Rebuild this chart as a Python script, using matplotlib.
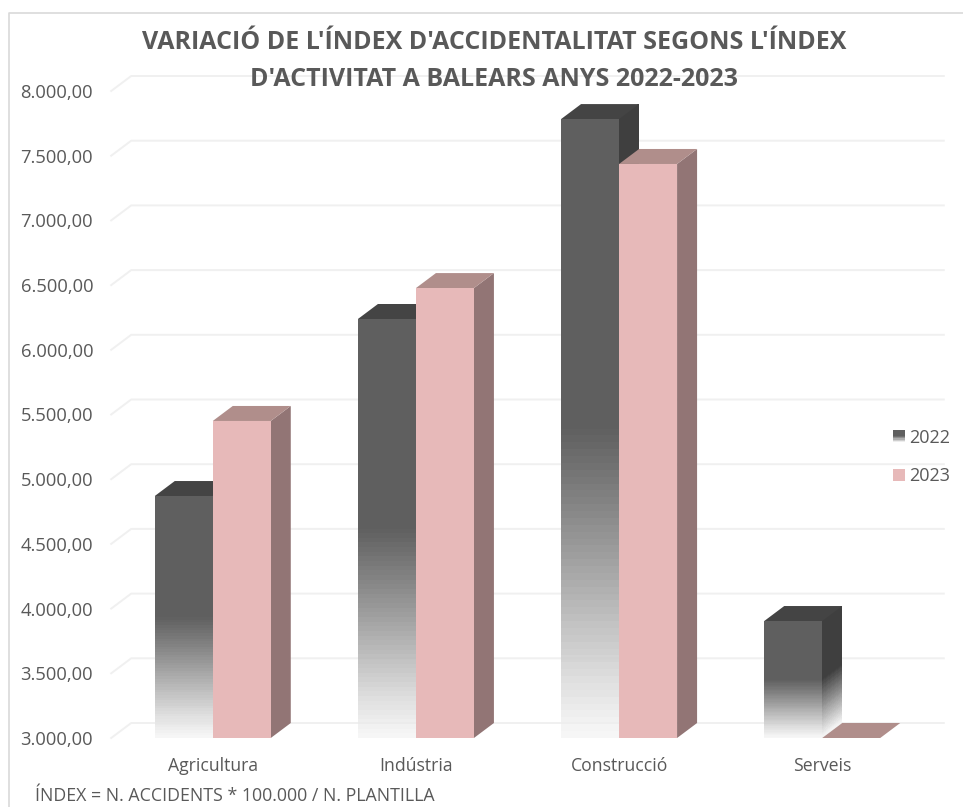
import numpy as np
import matplotlib
matplotlib.use("Agg")
import matplotlib.pyplot as plt
from matplotlib.legend_handler import HandlerBase
from matplotlib.lines import Line2D
from matplotlib.patches import Patch, Polygon, Rectangle
from matplotlib.ticker import FuncFormatter

categories = ["Agricultura", "Indústria", "Construcció", "Serveis"]
values_2022 = [4870, 6238, 7783, 3904]
values_2023 = [5450, 6477, 7436, 3000]
y_ticks = [3000, 3500, 4000, 4500, 5000, 5500, 6000, 6500, 7000, 7500, 8000]
title = "VARIACIÓ DE L'ÍNDEX D'ACCIDENTALITAT SEGONS L'ÍNDEX\nD'ACTIVITAT A BALEARS ANYS 2022-2023"
footer = "ÍNDEX = N. ACCIDENTS * 100.000 / N. PLANTILLA"

W, H = 963, 807
TEXT = "#595959"
plt.rcParams["font.family"] = ["Open Sans", "DejaVu Sans"]

fig = plt.figure(figsize=(W / 100, H / 100), dpi=100)
L, R, T, B = 111.2, 923.8, 91, 738
ax = fig.add_axes([L / W, 1 - B / H, (R - L) / W, (B - T) / H])
ax.set_xlim(-0.5, 3.5)
ax.set_ylim(3000, 8000)
for s in ax.spines.values():
    s.set_visible(False)

px_x = 4.0 / (R - L)
px_y = 5000.0 / (B - T)
DX = 20 * px_x
DY = 15 * px_y
BW = 58 * px_x

# Outer frame: only top and left edges fall inside the picture
fig.add_artist(Line2D([8.5 / W, 8.5 / W, 1], [0, 1 - 13 / H, 1 - 13 / H], transform=fig.transFigure,
                      color="#d9d9d9", lw=1.2))

# Gridlines on the back wall with the floor return
for t in y_ticks:
    ax.plot([-0.5, -0.5 + DX, 3.5 + DX], [t, t + DY, t + DY], color="#f0f0f0", lw=1.4,
            zorder=1, clip_on=False, solid_joinstyle="round")


def gradient_quad(x0, x1, v, lift, top_grey, z, n=90):
    """Face of a 2022 bar: solid down to mid height, then a linear fade to near white."""
    ys = np.linspace(v, 3000, n + 1)
    X = np.array([[x0, x1]] * (n + 1))
    Y = np.column_stack([ys, ys + lift])
    f = np.clip(((ys[:-1] + ys[1:]) / 2 - 3000) / (v - 3000), 0, 1)  # 1 at top, 0 at bottom
    k = np.clip((0.5 - f) / 0.5, 0, 1)
    grey = top_grey + (0.965 - top_grey) * k
    alpha = 1 - 0.25 * k ** 3
    C = np.column_stack([grey, grey, grey, alpha]).reshape(n, 1, 4)
    ax.pcolormesh(X, Y, C, shading="flat", zorder=z, clip_on=False)


x = np.arange(len(categories))
for i, v in enumerate(values_2022):
    left, right = x[i] - BW, x[i]
    gradient_quad(right, right + DX, v, DY, 0x3f / 255, 3)
    ax.add_patch(Polygon([(left, v), (right, v), (right + DX, v + DY), (left + DX, v + DY)],
                         fc="#444444", ec="none", zorder=3, clip_on=False))
    ax.bar(x[i] - BW / 2, v - 3000, BW, bottom=3000, color="none", zorder=4)
    gradient_quad(left, right, v, 0, 0x5f / 255, 4)

for i, v in enumerate(values_2023):
    left, right = x[i], x[i] + BW
    ax.add_patch(Polygon([(right, 3000), (right + DX, 3000 + DY), (right + DX, v + DY), (right, v)],
                         fc="#927575", ec="none", zorder=5, clip_on=False))
    ax.add_patch(Polygon([(left, v), (right, v), (right + DX, v + DY), (left + DX, v + DY)],
                         fc="#b08e8b", ec="none", zorder=5, clip_on=False))
    ax.bar(x[i] + BW / 2, v - 3000, BW, bottom=3000, color="#e7b9b9", zorder=6, clip_on=False)

ax.set_xticks(x)
ax.set_xticklabels(categories)
ax.set_yticks(y_ticks)
ax.yaxis.set_major_formatter(FuncFormatter(lambda v, _: f"{v:,.2f}".replace(",", "X").replace(".", ",").replace("X", ".")))
ax.tick_params(axis="y", length=0, pad=13, labelsize=13.2, labelcolor=TEXT)
ax.tick_params(axis="x", length=0, pad=13.5, labelsize=12.7, labelcolor=TEXT)

fig.text(494 / W, 1 - 61 / H, title, ha="center", va="center", fontsize=18, fontweight="bold",
         color=TEXT, linespacing=1.58, zorder=10)
fig.text(35 / W, 1 - 796 / H, footer, ha="left", va="center", fontsize=12.8, color=TEXT)


class FadeHandler(HandlerBase):
    def create_artists(self, legend, orig, xd, yd, width, height, fontsize, trans):
        n = 10
        out = []
        for k in range(n):
            f = k / (n - 1)
            g = 0x5f / 255 if f < 0.5 else 0x5f / 255 + (0.93 - 0x5f / 255) * (f - 0.5) * 2
            out.append(Rectangle((-xd, -yd + height * (1 - (k + 1) / n)), width, height / n + 0.2,
                                 fc=(g, g, g), ec="none", transform=trans))
        return out


class SquareHandler(HandlerBase):
    def create_artists(self, legend, orig, xd, yd, width, height, fontsize, trans):
        return [Rectangle((-xd, -yd), width, height, fc=orig.get_facecolor(), ec="none", transform=trans)]


h22, h23 = Patch(fc="#5f5f5f", label="2022"), Patch(fc="#e7b9b9", label="2023")
leg = fig.legend(handles=[h22, h23], loc="center left", bbox_to_anchor=(893 / W, 1 - 457 / H),
                 frameon=False, fontsize=13, labelcolor=TEXT, handlelength=0.66, handleheight=0.66,
                 handletextpad=0.25, labelspacing=1.15, borderpad=0, borderaxespad=0,
                 handler_map={h22: FadeHandler(), h23: SquareHandler()})

fig.savefig("out.png", dpi=100, facecolor="white")
